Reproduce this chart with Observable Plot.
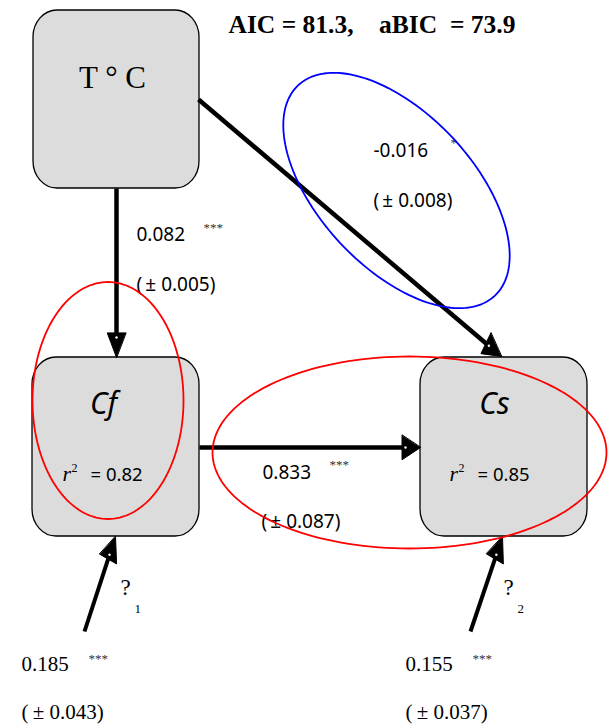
<!DOCTYPE html>
<html><head><meta charset="utf-8">
<script src="https://cdn.jsdelivr.net/npm/d3@7"></script>
<script src="https://cdn.jsdelivr.net/npm/@observablehq/plot@0.6"></script>
<style>html,body{margin:0;padding:0;background:#fff;} #chart svg{display:block;}</style>
</head><body><div id="chart"></div>
<script>
// ---------- data ----------
const fitStats = ["AIC", "aBIC"];
const fitValues = [81.3, 73.9];
const nodeNames = ["T ° C", "Cf", "Cs"];
const nodeR2 = [null, 0.82, 0.85];
const pathNames = ["T→Cf", "T→Cs", "Cf→Cs", "e1→Cf", "e2→Cs"];
const pathEstimates = [0.082, -0.016, 0.833, 0.185, 0.155];
const pathSE = [0.005, 0.008, 0.087, 0.043, 0.037];
const pathSig = ["***", "*", "***", "***", "***"];
const errorSymbols = ["?", "?"];
const errorIndex = ["1", "2"];

// ---------- layout (diagram placement) ----------
const layout = {
  title: [228, 32],
  boxes: [[33, 199, 10, 188], [32, 199, 357, 536], [420, 587, 357, 536]],
  nodeLabel: [[112, 87], [103, 413], [494, 413]],
  r2Pos: [null, [62, 480], [449, 480]],
  arrows: [[[116, 188], [116, 357], 4.5], [[198, 99], [501, 356], 4.5], [[199, 447], [420, 447], 4.5],
           [[84, 631], [115, 536], 4], [[470, 631], [502, 536], 4]],
  estPos: [[136, 240], [373, 156], [262, 478], [21, 670], [405, 670]],
  sigPos: [[203, 231], [450, 146], [329, 468], [88, 662], [472, 662]],
  sePos: [[136, 290], [373, 206], [261, 527], [21, 718], [405, 718]],
  serif: [false, false, false, true, true],
  errPos: [[120, 594], [503, 594]],
  ellipses: [[396, 190, 144, 77, 47, "#0000ff"], [107.5, 400, 75.5, 118.5, 0, "#ff0000"], [409, 452, 197, 96, 0, "#ff0000"]]
};

const SANS = "Noto Sans", SERIF = "Liberation Serif";

// boxes
const boxes = nodeNames.map((n, i) => ({name: n, x1: layout.boxes[i][0], x2: layout.boxes[i][1], y1: layout.boxes[i][2], y2: layout.boxes[i][3]}));

// arrows: shaft + filled head (head drawn in a y-stretched unit space)
const YS = 1.33, HL = 18.5, HW = 18.5;
const shafts = [], heads = [], notches = [];
layout.arrows.forEach(([s, t, w], i) => {
  const dx = t[0] - s[0], dy = (t[1] - s[1]) / YS;
  const len = Math.hypot(dx, dy), ux = dx / len, uy = dy / len, nx = -uy, ny = ux;
  const bx = t[0] - HL * ux, by = t[1] - HL * uy * YS;
  shafts.push({id: pathNames[i], x1: s[0], y1: s[1], x2: bx + 2 * ux, y2: by + 2 * uy * YS, w});
  heads.push({id: pathNames[i], x: t[0], y: t[1]});
  heads.push({id: pathNames[i], x: bx + HW / 2 * nx, y: by + HW / 2 * ny * YS});
  heads.push({id: pathNames[i], x: bx - HW / 2 * nx, y: by - HW / 2 * ny * YS});
  notches.push({x: bx + 3.5 * ux, y: by + 3.5 * uy * YS});
});

// ellipses
const ellPts = [];
layout.ellipses.forEach(([cx, cy, a, b, ang, col], i) => {
  const phi = ang * Math.PI / 180, N = 160;
  for (let k = 0; k < N; k++) {
    const th = 2 * Math.PI * k / N, px = a * Math.cos(th), py = b * Math.sin(th);
    ellPts.push({id: i, color: col, x: cx + px * Math.cos(phi) - py * Math.sin(phi), y: cy + px * Math.sin(phi) + py * Math.cos(phi)});
  }
});

// texts
const nb = "\u00a0";
const titleText = `${fitStats[0]} = ${fitValues[0]},${nb}${nb}${nb}${nb}${fitStats[1]}${nb}${nb}= ${fitValues[1]}`;
const est = pathEstimates.map((v, i) => ({x: layout.estPos[i][0], y: layout.estPos[i][1], t: v.toFixed(3), serif: layout.serif[i]}));
const se = pathSE.map((v, i) => ({x: layout.sePos[i][0], y: layout.sePos[i][1], t: `(\u2009±${nb}${v.toFixed(3)})`, serif: layout.serif[i]}));
const sig = pathSig.map((v, i) => ({x: layout.sigPos[i][0], y: layout.sigPos[i][1], t: v}));
const r2 = nodeR2.map((v, i) => v == null ? null : ({x: layout.r2Pos[i][0], y: layout.r2Pos[i][1], v})).filter(d => d);
const errs = errorSymbols.map((s, i) => ({x: layout.errPos[i][0], y: layout.errPos[i][1], s, k: errorIndex[i]}));

const txt = (data, o) => Plot.text(data, {textAnchor: "start", lineAnchor: "bottom", fill: "black", ...o});

const chart = Plot.plot({
  width: 611, height: 726, margin: 0,
  x: {domain: [0, 611], range: [0, 611], axis: null},
  y: {domain: [0, 726], range: [0, 726], axis: null},
  style: {background: "white"},
  marks: [
    Plot.rect(boxes, {x1: "x1", x2: "x2", y1: "y1", y2: "y2", rx: 24, ry: 27, fill: "#dcdcdc", stroke: "black", strokeWidth: 1.3}),
    Plot.link(shafts, {filter: d => d.w === 4.5, x1: "x1", y1: "y1", x2: "x2", y2: "y2", stroke: "black", strokeWidth: 4.5}),
    Plot.link(shafts, {filter: d => d.w === 4, x1: "x1", y1: "y1", x2: "x2", y2: "y2", stroke: "black", strokeWidth: 4}),
    Plot.line(heads, {x: "x", y: "y", z: "id", curve: "linear-closed", fill: "black", stroke: "black", strokeWidth: 1}),
    Plot.dot(notches, {x: "x", y: "y", r: 1.2, fill: "white", stroke: "none"}),
    // title
    txt([titleText], {x: layout.title[0], y: layout.title[1], text: d => d, fontFamily: SERIF, fontWeight: "bold", fontSize: 25.5}),
    // node labels
    txt([nodeNames[0]], {x: layout.nodeLabel[0][0], y: layout.nodeLabel[0][1], text: d => d, textAnchor: "middle", fontFamily: SERIF, fontSize: 31}),
    txt(nodeNames.slice(1), {x: (d, i) => layout.nodeLabel[i + 1][0], y: (d, i) => layout.nodeLabel[i + 1][1], text: d => d, textAnchor: "middle", fontFamily: SANS, fontStyle: "italic", fontSize: 30}),
    // r2
    txt(r2, {x: "x", y: "y", text: () => "r", fontFamily: SERIF, fontStyle: "italic", fontSize: 22}),
    txt(r2, {x: d => d.x + 9, y: d => d.y - 9, text: () => "2", fontFamily: SERIF, fontSize: 12}),
    txt(r2, {x: d => d.x + 28, y: "y", text: d => `= ${d.v.toFixed(2)}`, fontFamily: SANS, fontSize: 18.5}),
    // coefficients
    txt(est.filter(d => !d.serif), {x: "x", y: "y", text: "t", fontFamily: SANS, fontSize: 19}),
    txt(est.filter(d => d.serif), {x: "x", y: "y", text: "t", fontFamily: SERIF, fontSize: 21}),
    txt(se.filter(d => !d.serif), {x: "x", y: "y", text: "t", fontFamily: SANS, fontSize: 19}),
    txt(se.filter(d => d.serif), {x: "x", y: "y", text: "t", fontFamily: SERIF, fontSize: 21}),
    txt(sig, {x: "x", y: "y", text: "t", fontFamily: SERIF, fontSize: 13, fill: "#333"}),
    // error terms
    txt(errs, {x: "x", y: "y", text: "s", fontFamily: SERIF, fontSize: 23}),
    txt(errs, {x: d => d.x + 14, y: d => d.y + 18, text: "k", fontFamily: SERIF, fontSize: 13}),
    // ellipses
    Plot.line(ellPts, {x: "x", y: "y", z: "id", stroke: "color", curve: "linear-closed", strokeWidth: 1.8})
  ]
});
document.getElementById("chart").appendChild(chart);
</script>
</body></html>
